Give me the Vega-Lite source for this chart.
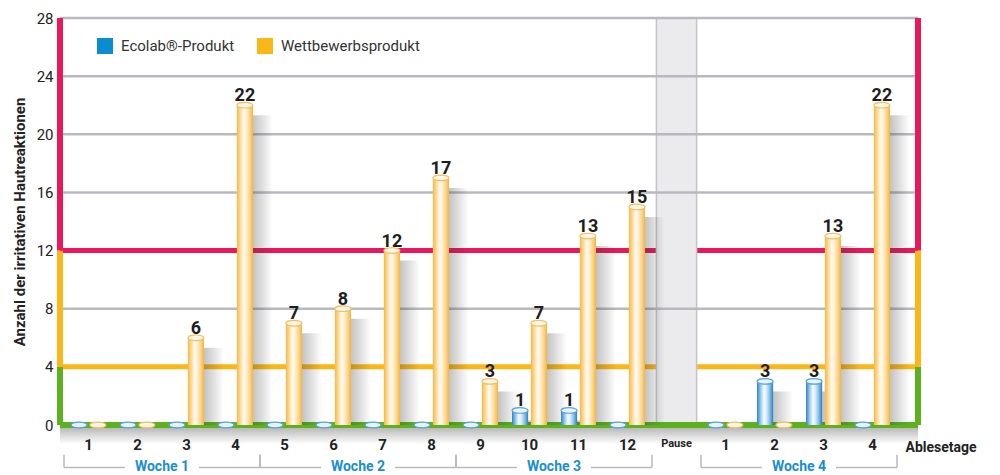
{
  "$schema": "https://vega.github.io/schema/vega-lite/v6.json",
  "width": 858,
  "height": 407,
  "autosize": {"type": "none"},
  "padding": {"left": 60, "top": 18, "right": 82, "bottom": 50},
  "background": "white",
  "config": {
    "font": "Roboto",
    "view": {"stroke": null},
    "axisX": {"labelFontWeight": "bold", "labelColor": "#222", "labelPadding": 12, "labelAngle": 0, "ticks": false, "domain": false, "grid": false, "zindex": 1},
    "axisY": {"labelFontSize": 15, "labelColor": "#222", "labelPadding": 7, "ticks": false, "domain": false, "grid": false}
  },
  "datasets": {
    "bars": [
      {"tag": "1", "series": "Ecolab®-Produkt", "value": 0},
      {"tag": "2", "series": "Ecolab®-Produkt", "value": 0},
      {"tag": "3", "series": "Ecolab®-Produkt", "value": 0},
      {"tag": "4", "series": "Ecolab®-Produkt", "value": 0},
      {"tag": "5", "series": "Ecolab®-Produkt", "value": 0},
      {"tag": "6", "series": "Ecolab®-Produkt", "value": 0},
      {"tag": "7", "series": "Ecolab®-Produkt", "value": 0},
      {"tag": "8", "series": "Ecolab®-Produkt", "value": 0},
      {"tag": "9", "series": "Ecolab®-Produkt", "value": 0},
      {"tag": "10", "series": "Ecolab®-Produkt", "value": 1},
      {"tag": "11", "series": "Ecolab®-Produkt", "value": 1},
      {"tag": "12", "series": "Ecolab®-Produkt", "value": 0},
      {"tag": "W4-1", "series": "Ecolab®-Produkt", "value": 0},
      {"tag": "W4-2", "series": "Ecolab®-Produkt", "value": 3},
      {"tag": "W4-3", "series": "Ecolab®-Produkt", "value": 3},
      {"tag": "W4-4", "series": "Ecolab®-Produkt", "value": 0},
      {"tag": "1", "series": "Wettbewerbsprodukt", "value": 0},
      {"tag": "2", "series": "Wettbewerbsprodukt", "value": 0},
      {"tag": "3", "series": "Wettbewerbsprodukt", "value": 6},
      {"tag": "4", "series": "Wettbewerbsprodukt", "value": 22},
      {"tag": "5", "series": "Wettbewerbsprodukt", "value": 7},
      {"tag": "6", "series": "Wettbewerbsprodukt", "value": 8},
      {"tag": "7", "series": "Wettbewerbsprodukt", "value": 12},
      {"tag": "8", "series": "Wettbewerbsprodukt", "value": 17},
      {"tag": "9", "series": "Wettbewerbsprodukt", "value": 3},
      {"tag": "10", "series": "Wettbewerbsprodukt", "value": 7},
      {"tag": "11", "series": "Wettbewerbsprodukt", "value": 13},
      {"tag": "12", "series": "Wettbewerbsprodukt", "value": 15},
      {"tag": "W4-1", "series": "Wettbewerbsprodukt", "value": 0},
      {"tag": "W4-2", "series": "Wettbewerbsprodukt", "value": 0},
      {"tag": "W4-3", "series": "Wettbewerbsprodukt", "value": 13},
      {"tag": "W4-4", "series": "Wettbewerbsprodukt", "value": 22}
    ],
    "weeks": [
      {"week": "Woche 1", "a": "1", "b": "2", "c": "3", "d": "4"},
      {"week": "Woche 2", "a": "5", "b": "6", "c": "7", "d": "8"},
      {"week": "Woche 3", "a": "9", "b": "10", "c": "11", "d": "12"},
      {"week": "Woche 4", "a": "W4-1", "b": "W4-2", "c": "W4-3", "d": "W4-4"}
    ],
    "zones": [
      {"lo": 0, "hi": 4, "zone": "low"},
      {"lo": 4, "hi": 12, "zone": "mid"},
      {"lo": 12, "hi": 28, "zone": "high"}
    ],
    "pause": [{"tag": "Pause"}],
    "one": [{}]
  },
  "layer": [
    {
      "data": {"name": "one"},
      "mark": {"type": "rule", "color": "#fbb617", "strokeWidth": 5},
      "encoding": {
        "y": {"datum": 4, "type": "quantitative",
          "scale": {"domain": [0, 28], "nice": false, "zero": false},
          "axis": {"values": [0, 4, 8, 12, 16, 20, 24, 28], "title": "Anzahl der irritativen Hautreaktionen", "titleFontSize": 15, "titleFontWeight": "bold", "titleColor": "#222", "titlePadding": 9}}
      }
    },
    {
      "data": {"name": "one"},
      "mark": {"type": "rule", "color": "#e8185a", "strokeWidth": 5},
      "encoding": {"y": {"datum": 12, "type": "quantitative"}}
    },
    {
      "data": {"name": "pause"},
      "mark": {"type": "bar", "width": {"band": 0.82}, "fill": "#ebebed", "stroke": "#c3c4ca", "strokeWidth": 1.5},
      "encoding": {
        "x": {"field": "tag", "type": "nominal",
          "scale": {"domain": ["1", "2", "3", "4", "5", "6", "7", "8", "9", "10", "11", "12", "Pause", "W4-1", "W4-2", "W4-3", "W4-4"], "range": [4, 837], "paddingInner": 0, "paddingOuter": 0},
          "axis": {"title": "Ablesetage", "titleX": 845, "titleY": 22, "titleAlign": "left", "titleBaseline": "middle", "titleFontSize": 14, "titleFontWeight": "bold", "titleColor": "#222",
            "labelExpr": "replace(datum.value, 'W4-', '')",
            "labelFontSize": {"condition": {"test": "datum.value == 'Pause'", "value": 11}, "value": 15}}},
        "y": {"datum": 0, "type": "quantitative"},
        "y2": {"datum": 28}
      }
    },
    {
      "data": {"name": "one"},
      "mark": {"type": "rule", "color": "#b8b9c0", "strokeWidth": 2.5},
      "encoding": {"x": {"value": 0}, "x2": {"value": "width"}, "y": {"datum": 28, "type": "quantitative"}}
    },
    {
      "data": {"name": "one"},
      "mark": {"type": "rule", "color": "#b8b9c0", "strokeWidth": 2.5},
      "encoding": {"x": {"value": 0}, "x2": {"value": "width"}, "y": {"datum": 24, "type": "quantitative"}}
    },
    {
      "data": {"name": "one"},
      "mark": {"type": "rule", "color": "#b8b9c0", "strokeWidth": 2.5},
      "encoding": {"x": {"value": 0}, "x2": {"value": "width"}, "y": {"datum": 20, "type": "quantitative"}}
    },
    {
      "data": {"name": "one"},
      "mark": {"type": "rule", "color": "#b8b9c0", "strokeWidth": 2.5},
      "encoding": {"x": {"value": 0}, "x2": {"value": "width"}, "y": {"datum": 16, "type": "quantitative"}}
    },
    {
      "data": {"name": "one"},
      "mark": {"type": "rule", "color": "#b8b9c0", "strokeWidth": 2.5},
      "encoding": {"x": {"value": 0}, "x2": {"value": "width"}, "y": {"datum": 8, "type": "quantitative"}}
    },
    {
      "data": {"name": "one"},
      "mark": {"type": "bar",
        "fill": {"gradient": "linear", "x1": 0, "x2": 0, "y1": 0, "y2": 1, "stops": [{"offset": 0, "color": "rgba(70,70,70,0.45)"}, {"offset": 1, "color": "rgba(70,70,70,0)"}]}},
      "encoding": {
        "x": {"value": 0},
        "x2": {"value": "width"},
        "y": {"datum": 0, "type": "quantitative"},
        "y2": {"datum": -1.3}
      }
    },
    {
      "data": {"name": "one"},
      "mark": {"type": "rule", "color": "#5cb21e", "strokeWidth": 6},
      "encoding": {"y": {"datum": 0, "type": "quantitative"}}
    },
    {
      "data": {"name": "zones"},
      "mark": {"type": "rule", "strokeWidth": 6},
      "encoding": {
        "x": {"value": 0},
        "y": {"field": "lo", "type": "quantitative"},
        "y2": {"field": "hi"},
        "stroke": {"field": "zone", "type": "nominal", "scale": {"domain": ["low", "mid", "high"], "range": ["#5cb21e", "#fbb617", "#e8185a"]}, "legend": null}
      }
    },
    {
      "data": {"name": "zones"},
      "mark": {"type": "rule", "strokeWidth": 6},
      "encoding": {
        "x": {"value": "width"},
        "y": {"field": "lo", "type": "quantitative"},
        "y2": {"field": "hi"},
        "stroke": {"field": "zone", "type": "nominal", "legend": null}
      }
    },
    {
      "data": {"name": "bars"},
      "transform": [{"filter": "datum.value > 0"}],
      "mark": {"type": "bar", "width": 56, "yOffset": 10,
        "fill": {"gradient": "linear", "x1": 0, "x2": 1, "y1": 0, "y2": 0, "stops": [{"offset": 0, "color": "rgba(60,60,60,0)"}, {"offset": 0.55, "color": "rgba(60,60,60,0)"}, {"offset": 0.56, "color": "rgba(60,60,60,0.38)"}, {"offset": 1, "color": "rgba(60,60,60,0)"}]}},
      "encoding": {
        "x": {"field": "tag", "type": "nominal"},
        "xOffset": {"field": "series", "type": "nominal", "scale": {"domain": ["Ecolab®-Produkt", "Wettbewerbsprodukt"], "paddingInner": 0, "paddingOuter": 0.3}},
        "y": {"field": "value", "type": "quantitative"},
        "y2": {"datum": 0}
      }
    },
    {
      "data": {"name": "bars"},
      "mark": {"type": "bar", "width": 16},
      "encoding": {
        "x": {"field": "tag", "type": "nominal"},
        "xOffset": {"field": "series", "type": "nominal"},
        "y": {"field": "value", "type": "quantitative"},
        "y2": {"datum": 0},
        "color": {"field": "series", "type": "nominal",
          "scale": {"domain": ["Ecolab®-Produkt", "Wettbewerbsprodukt"], "range": ["#0a8dd0", "#fbb617"]},
          "legend": {"orient": "none", "legendX": 37, "legendY": 20, "direction": "horizontal", "title": null, "symbolType": "square", "symbolSize": 256, "symbolStrokeWidth": 0, "symbolOpacity": 1, "labelFontSize": 15, "labelColor": "#333", "columnPadding": 22, "labelOffset": 8, "padding": 0}}
      }
    },
    {
      "data": {"name": "bars"},
      "transform": [{"filter": "datum.series == 'Wettbewerbsprodukt'"}],
      "mark": {"type": "bar", "width": 16,
        "fill": {"gradient": "linear", "x1": 0, "x2": 1, "y1": 0, "y2": 0, "stops": [{"offset": 0, "color": "#f6b848"}, {"offset": 0.2, "color": "#fcd88e"}, {"offset": 0.42, "color": "#fffaf1"}, {"offset": 0.56, "color": "#fff2da"}, {"offset": 0.8, "color": "#fcd588"}, {"offset": 1, "color": "#f4b542"}]}},
      "encoding": {
        "x": {"field": "tag", "type": "nominal"},
        "xOffset": {"field": "series", "type": "nominal"},
        "y": {"field": "value", "type": "quantitative"},
        "y2": {"datum": 0}
      }
    },
    {
      "data": {"name": "bars"},
      "transform": [{"filter": "datum.series == 'Ecolab®-Produkt'"}],
      "mark": {"type": "bar", "width": 16,
        "fill": {"gradient": "linear", "x1": 0, "x2": 1, "y1": 0, "y2": 0, "stops": [{"offset": 0, "color": "#2f86c9"}, {"offset": 0.2, "color": "#8cc3ea"}, {"offset": 0.42, "color": "#f4fafe"}, {"offset": 0.56, "color": "#e1f0fb"}, {"offset": 0.8, "color": "#84bde6"}, {"offset": 1, "color": "#2c80c4"}]}},
      "encoding": {
        "x": {"field": "tag", "type": "nominal"},
        "xOffset": {"field": "series", "type": "nominal"},
        "y": {"field": "value", "type": "quantitative"},
        "y2": {"datum": 0}
      }
    },
    {
      "data": {"name": "bars"},
      "mark": {"type": "point", "filled": true, "size": 256, "strokeWidth": 1.2, "opacity": 1,
        "shape": "M -1 0 A 1 0.35 0 1 0 1 0 A 1 0.35 0 1 0 -1 0 Z"},
      "encoding": {
        "x": {"field": "tag", "type": "nominal"},
        "xOffset": {"field": "series", "type": "nominal"},
        "y": {"field": "value", "type": "quantitative"},
        "fill": {"condition": {"test": "datum.series == 'Ecolab®-Produkt'", "value": "#e8f4fc"}, "value": "#fff6e6"},
        "stroke": {"condition": {"test": "datum.series == 'Ecolab®-Produkt'", "value": "#5aa3da"}, "value": "#f0c064"}
      }
    },
    {
      "data": {"name": "bars"},
      "transform": [{"filter": "datum.value > 0"}],
      "mark": {"type": "text", "fontSize": 18, "fontWeight": "bold", "color": "#1e1e1e", "baseline": "alphabetic", "dy": -4},
      "encoding": {
        "x": {"field": "tag", "type": "nominal"},
        "xOffset": {"field": "series", "type": "nominal"},
        "y": {"field": "value", "type": "quantitative"},
        "text": {"field": "value", "type": "quantitative"}
      }
    },
    {
      "data": {"name": "weeks"},
      "mark": {"type": "rule", "color": "#b9bac0", "strokeWidth": 1.5, "xOffset": -24.5},
      "encoding": {
        "x": {"field": "a", "type": "nominal"},
        "y": {"datum": -2.05, "type": "quantitative"},
        "y2": {"datum": -2.92}
      }
    },
    {
      "data": {"name": "weeks"},
      "mark": {"type": "rule", "color": "#b9bac0", "strokeWidth": 1.5, "xOffset": 24.5},
      "encoding": {
        "x": {"field": "d", "type": "nominal"},
        "y": {"datum": -2.05, "type": "quantitative"},
        "y2": {"datum": -2.92}
      }
    },
    {
      "data": {"name": "weeks"},
      "mark": {"type": "rule", "color": "#b9bac0", "strokeWidth": 1.5, "xOffset": -24.5, "x2Offset": -12.5},
      "encoding": {
        "x": {"field": "a", "type": "nominal"},
        "x2": {"field": "b"},
        "y": {"datum": -2.92, "type": "quantitative"}
      }
    },
    {
      "data": {"name": "weeks"},
      "mark": {"type": "rule", "color": "#b9bac0", "strokeWidth": 1.5, "xOffset": 12.5, "x2Offset": 24.5},
      "encoding": {
        "x": {"field": "c", "type": "nominal"},
        "x2": {"field": "d"},
        "y": {"datum": -2.92, "type": "quantitative"}
      }
    },
    {
      "data": {"name": "weeks"},
      "mark": {"type": "text", "fontSize": 14, "fontWeight": "bold", "color": "#1a8fd0", "dx": 24.5, "baseline": "middle", "align": "center"},
      "encoding": {
        "x": {"field": "b", "type": "nominal"},
        "y": {"datum": -2.92, "type": "quantitative"},
        "text": {"field": "week", "type": "nominal"}
      }
    }
  ]
}
